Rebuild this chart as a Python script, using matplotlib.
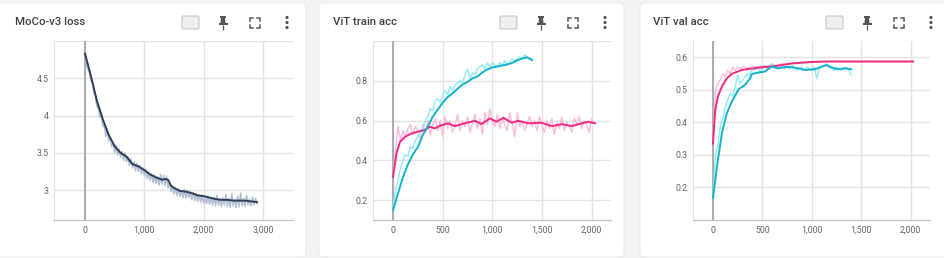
import numpy as np
import matplotlib
matplotlib.use('Agg')
import matplotlib.pyplot as plt
from matplotlib.patches import FancyBboxPatch, Polygon, Circle, Rectangle
from matplotlib.ticker import FuncFormatter

plt.rcParams['font.family'] = ['Roboto', 'DejaVu Sans']

# MoCo-v3 loss: smoothed line and raw values
loss_steps = [0, 100, 200, 300, 400, 500, 600, 700, 800, 900, 1000, 1100, 1200, 1300,
              1350, 1400, 1450, 1500, 1600, 1700, 1800, 1900, 2000, 2100, 2200, 2300,
              2400, 2500, 2600, 2700, 2800, 2900]
loss_smooth = [4.83, 4.53, 4.20, 3.95, 3.74, 3.59, 3.50, 3.45, 3.35, 3.32, 3.27, 3.21,
               3.17, 3.14, 3.15, 3.14, 3.06, 3.03, 2.99, 2.98, 2.96, 2.93, 2.92, 2.90,
               2.88, 2.87, 2.87, 2.86, 2.86, 2.86, 2.85, 2.84]
loss_raw_steps = np.arange(0, 2901, 25)
loss_raw = [4.80, 4.70, 4.62, 4.58, 4.47, 4.43, 4.30, 4.26, 4.12, 4.10, 3.98, 4.02,
            3.85, 3.88, 3.72, 3.80, 3.66, 3.70, 3.58, 3.64, 3.50, 3.60, 3.47, 3.55,
            3.44, 3.52, 3.40, 3.50, 3.38, 3.45, 3.33, 3.42, 3.30, 3.38, 3.26, 3.36,
            3.25, 3.33, 3.22, 3.30, 3.19, 3.28, 3.15, 3.24, 3.13, 3.22, 3.10, 3.20,
            3.09, 3.18, 3.07, 3.21, 3.08, 3.20, 3.06, 3.19, 3.03, 3.10, 2.98, 3.04,
            2.95, 3.03, 2.93, 3.02, 2.92, 3.00, 2.90, 3.01, 2.89, 3.00, 2.90, 2.98,
            2.87, 2.97, 2.86, 2.95, 2.85, 2.94, 2.84, 2.93, 2.83, 2.91, 2.82, 2.92,
            2.81, 2.90, 2.80, 2.91, 2.79, 2.93, 2.80, 2.89, 2.78, 2.90, 2.80, 2.94,
            2.78, 2.89, 2.77, 2.95, 2.79, 2.88, 2.77, 2.92, 2.78, 2.96, 2.79, 2.89,
            2.78, 2.93, 2.80, 2.88, 2.79, 2.91, 2.80, 2.89, 2.82]

# ViT train acc
train_cyan_steps = [0, 50, 100, 150, 200, 250, 300, 350, 400, 450, 500, 550, 600, 650,
                    700, 750, 800, 850, 900, 950, 1000, 1050, 1100, 1150, 1200, 1250,
                    1300, 1350, 1400]
train_cyan_smooth = [0.15, 0.234, 0.316, 0.38, 0.43, 0.467, 0.527, 0.57, 0.62, 0.655,
                     0.69, 0.718, 0.737, 0.76, 0.781, 0.794, 0.812, 0.822, 0.842, 0.858,
                     0.867, 0.872, 0.877, 0.882, 0.89, 0.902, 0.912, 0.918, 0.905]
train_cyan_raw_steps = np.arange(0, 1401, 25)
train_cyan_raw = [0.17, 0.25, 0.30, 0.36, 0.40, 0.43, 0.42, 0.47, 0.46, 0.50, 0.52, 0.55,
                  0.56, 0.60, 0.62, 0.66, 0.65, 0.70, 0.71, 0.69, 0.73, 0.75, 0.73, 0.77,
                  0.75, 0.78, 0.79, 0.80, 0.79, 0.83, 0.86, 0.81, 0.84, 0.83, 0.86, 0.87,
                  0.88, 0.86, 0.89, 0.87, 0.89, 0.88, 0.87, 0.89, 0.88, 0.90, 0.88, 0.89,
                  0.91, 0.90, 0.91, 0.92, 0.91, 0.93, 0.92, 0.91, 0.90]

train_pink_steps = [0, 35, 70, 120, 185, 250, 320, 370, 420, 490, 555, 620, 720, 825,
                    890, 975, 1040, 1110, 1195, 1260, 1360, 1495, 1600, 1700, 1800,
                    1900, 1965, 2035]
train_pink_smooth = [0.317, 0.435, 0.493, 0.518, 0.535, 0.544, 0.552, 0.569, 0.561,
                     0.577, 0.586, 0.572, 0.586, 0.599, 0.582, 0.611, 0.594, 0.614,
                     0.589, 0.599, 0.586, 0.589, 0.572, 0.582, 0.572, 0.586, 0.594, 0.586]
train_pink_raw_steps = np.arange(0, 2026, 25)
train_pink_raw = [0.32, 0.45, 0.57, 0.50, 0.55, 0.52, 0.56, 0.58, 0.53, 0.57, 0.55, 0.51,
                  0.58, 0.54, 0.60, 0.53, 0.58, 0.61, 0.55, 0.60, 0.52, 0.62, 0.56, 0.60,
                  0.54, 0.58, 0.63, 0.55, 0.60, 0.57, 0.62, 0.54, 0.59, 0.63, 0.56, 0.61,
                  0.53, 0.64, 0.58, 0.66, 0.60, 0.57, 0.63, 0.56, 0.61, 0.58, 0.55, 0.64,
                  0.59, 0.52, 0.64, 0.57, 0.60, 0.55, 0.59, 0.62, 0.57, 0.60, 0.55, 0.62,
                  0.58, 0.54, 0.60, 0.56, 0.61, 0.53, 0.59, 0.56, 0.62, 0.55, 0.59, 0.57,
                  0.54, 0.61, 0.58, 0.62, 0.56, 0.60, 0.58, 0.54, 0.61, 0.59]

# ViT val acc
val_pink_steps = [0, 23, 50, 90, 140, 190, 290, 460, 630, 800, 965, 1130, 1470, 2025]
val_pink_smooth = [0.335, 0.438, 0.479, 0.510, 0.535, 0.549, 0.561, 0.568, 0.573, 0.581,
                   0.585, 0.587, 0.587, 0.587]
val_pink_raw_steps = [0, 25, 50, 75, 100, 125, 150, 175, 200, 225, 250, 275, 300, 350,
                      400, 450, 500, 550, 600, 650, 700, 750, 800, 850, 900, 950, 1000,
                      1100, 1200, 1300, 1400, 1500, 1600, 1700, 1800, 1900, 2025]
val_pink_raw = [0.34, 0.50, 0.52, 0.53, 0.55, 0.54, 0.56, 0.55, 0.57, 0.56, 0.57, 0.565,
                0.57, 0.568, 0.572, 0.57, 0.575, 0.572, 0.578, 0.575, 0.58, 0.578, 0.583,
                0.58, 0.585, 0.583, 0.586, 0.585, 0.588, 0.586, 0.587, 0.586, 0.588,
                0.586, 0.587, 0.586, 0.587]

val_cyan_steps = [0, 40, 90, 140, 190, 260, 325, 375, 395, 460, 525, 595, 660, 760, 865,
                  930, 1030, 1100, 1150, 1200, 1265, 1335, 1400]
val_cyan_smooth = [0.168, 0.263, 0.366, 0.428, 0.463, 0.502, 0.515, 0.535, 0.549, 0.553,
                   0.556, 0.571, 0.566, 0.571, 0.566, 0.561, 0.563, 0.571, 0.576, 0.569,
                   0.563, 0.566, 0.563]
val_cyan_raw_steps = np.arange(0, 1401, 25)
val_cyan_raw = [0.17, 0.30, 0.33, 0.39, 0.41, 0.45, 0.47, 0.49, 0.48, 0.51, 0.545, 0.52,
                0.53, 0.54, 0.55, 0.545, 0.565, 0.56, 0.57, 0.555, 0.565, 0.575, 0.565,
                0.57, 0.58, 0.575, 0.565, 0.57, 0.575, 0.565, 0.57, 0.565, 0.575, 0.57,
                0.56, 0.565, 0.57, 0.56, 0.57, 0.565, 0.56, 0.57, 0.535, 0.565, 0.57,
                0.575, 0.58, 0.57, 0.565, 0.56, 0.57, 0.565, 0.56, 0.565, 0.57, 0.56, 0.545]

titles = ['MoCo-v3 loss', 'ViT train acc', 'ViT val acc']

PINK, PINK_RAW = '#ee2a83', '#f9bcd8'
CYAN, CYAN_RAW = '#12b2c8', '#92e9f4'
NAVY, NAVY_RAW = '#2d3e56', '#b0bfd3'
W, H = 944, 258


def px_axes(fig, left, top, right, bottom):
    return fig.add_axes([left / W, 1 - bottom / H, (right - left) / W, (bottom - top) / H])


def draw_card(bg, x0, x1, title, title_x):
    card = FancyBboxPatch((x0, 3), x1 - x0, 254, boxstyle='round,pad=0,rounding_size=4',
                          fc='white', ec='#e6e6e6', lw=0.6)
    bg.add_patch(card)
    bg.text(title_x, 22, title, fontsize=8.2, color='#3c4043', va='center', ha='left',
            fontweight='medium')
    # header icons
    bx = x1 - 124
    bg.add_patch(FancyBboxPatch((bx, 16), 17, 13, boxstyle='round,pad=0,rounding_size=1.5',
                                fc='#eeeeee', ec='#c6c6c6', lw=0.8))
    for dx, dy in [(3.5, 3.5), (13.5, 3.5), (3.5, 9.5), (13.5, 9.5)]:
        bg.add_patch(Circle((bx + dx, 16 + dy), 0.7, fc='white', ec='none'))
    cx = x1 - 83
    ic = '#555555'
    bg.add_patch(Rectangle((cx - 3, 16), 6, 1.6, fc=ic, ec='none'))
    bg.add_patch(Polygon([(cx - 2, 17.6), (cx + 2, 17.6), (cx + 2.5, 23), (cx - 2.5, 23)],
                         fc=ic, ec='none'))
    bg.add_patch(Rectangle((cx - 4.5, 23), 9, 1.8, fc=ic, ec='none'))
    bg.plot([cx, cx], [24.8, 30], color=ic, lw=0.9, solid_capstyle='butt')
    cx = x1 - 51
    cy, s, a = 22.5, 5, 3
    for sx in (-1, 1):
        for sy in (-1, 1):
            bg.plot([cx + sx * s, cx + sx * s, cx + sx * (s - a)],
                    [cy + sy * (s - a), cy + sy * s, cy + sy * s],
                    color=ic, lw=1.1, solid_joinstyle='miter')
    cx = x1 - 19
    for dy in (-5, 0, 5):
        bg.add_patch(Circle((cx, cy + dy), 1.6, fc=ic, ec='none'))


def setup_ax(ax, xlim, ylim, xticks, yticks):
    ax.set_facecolor('none')
    ax.set_xlim(xlim)
    ax.set_ylim(ylim)
    ax.set_xticks(xticks)
    ax.set_yticks(yticks)
    ax.xaxis.set_major_formatter(FuncFormatter(lambda v, p: f'{int(v):,}'))
    ax.yaxis.set_major_formatter(FuncFormatter(lambda v, p: f'{v:g}'))
    ax.tick_params(length=0, labelsize=6.3, labelcolor='#5f6368', pad=4)
    ax.grid(True, color='#e3e3e3', lw=1.0)
    ax.set_axisbelow(True)
    for side in ('top', 'right'):
        ax.spines[side].set_visible(False)
    ax.spines['left'].set_color('#e3e3e3')
    ax.spines['bottom'].set_color('#c4c4c4')
    ax.spines['bottom'].set_linewidth(0.9)
    ax.axvline(0, color='#a6a6a6', lw=1.3, zorder=1)


fig = plt.figure(figsize=(W / 100, H / 100), dpi=100)
fig.patch.set_facecolor('#f1f3f4')

bg = fig.add_axes([0, 0, 1, 1], zorder=-10)
bg.set_xlim(0, W)
bg.set_ylim(H, 0)
bg.axis('off')

draw_card(bg, -6, 306, titles[0], 15)
draw_card(bg, 319, 624, titles[1], 333)
draw_card(bg, 640, 950, titles[2], 653)

# Panel 1: loss
ax1 = px_axes(fig, 54, 41, 293, 220)
setup_ax(ax1, (-523, 3508), (2.6, 5.0), [0, 1000, 2000, 3000], [3, 3.5, 4, 4.5, 5])
ax1.plot(loss_raw_steps, loss_raw, color=NAVY_RAW, lw=1.1, zorder=2)
ax1.plot(loss_steps, loss_smooth, color=NAVY, lw=1.4, zorder=3)

# Panel 2: train acc
ax2 = px_axes(fig, 373, 41, 611, 220)
setup_ax(ax2, (-202, 2195), (0.1, 1.0), [0, 500, 1000, 1500, 2000], [0.2, 0.4, 0.6, 0.8, 1.0])
ax2.plot(train_pink_raw_steps, train_pink_raw, color=PINK_RAW, lw=1.0, zorder=2)
ax2.plot(train_cyan_raw_steps, train_cyan_raw, color=CYAN_RAW, lw=1.0, zorder=2)
ax2.plot(train_pink_steps, train_pink_smooth, color=PINK, lw=1.4, zorder=3)
ax2.plot(train_cyan_steps, train_cyan_smooth, color=CYAN, lw=1.4, zorder=3)

# Panel 3: val acc
ax3 = px_axes(fig, 693, 41, 930, 220)
setup_ax(ax3, (-202, 2197), (0.1, 0.65), [0, 500, 1000, 1500, 2000],
         [0.2, 0.3, 0.4, 0.5, 0.6])
ax3.plot(val_pink_raw_steps, val_pink_raw, color=PINK_RAW, lw=1.0, zorder=2)
ax3.plot(val_cyan_raw_steps, val_cyan_raw, color=CYAN_RAW, lw=1.0, zorder=2)
ax3.plot(val_pink_steps, val_pink_smooth, color=PINK, lw=1.4, zorder=3)
ax3.plot(val_cyan_steps, val_cyan_smooth, color=CYAN, lw=1.4, zorder=3)

# the top tick labels are clipped in the original, hide them
for ax in (ax1, ax2):
    ax.get_yticklabels()[-1].set_visible(False)

fig.savefig('out.png', dpi=100, facecolor=fig.get_facecolor())
